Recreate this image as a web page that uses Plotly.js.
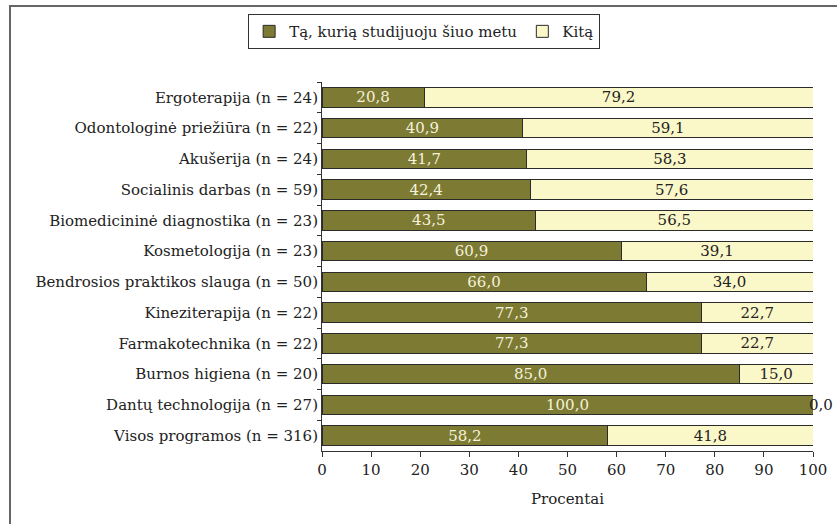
<!DOCTYPE html>
<html>
<head>
<meta charset="utf-8">
<script src="https://cdn.plot.ly/plotly-3.0.1.min.js"></script>
<style>
html,body{margin:0;padding:0;background:#fff;overflow:hidden;}
#frame{position:absolute;left:9px;top:5px;width:900px;height:600px;border-left:2px solid #666;border-top:2px solid #666;box-sizing:border-box;pointer-events:none;z-index:5;}
#chart{position:absolute;left:0;top:0;width:837px;height:524px;}
</style>
</head>
<body>
<div id="chart"></div>
<div id="frame"></div>
<script>
const categories = [
  "Ergoterapija (n = 24)",
  "Odontologinė priežiūra (n = 22)",
  "Akušerija (n = 24)",
  "Socialinis darbas (n = 59)",
  "Biomedicininė diagnostika (n = 23)",
  "Kosmetologija (n = 23)",
  "Bendrosios praktikos slauga (n = 50)",
  "Kineziterapija (n = 22)",
  "Farmakotechnika (n = 22)",
  "Burnos higiena (n = 20)",
  "Dantų technologija (n = 27)",
  "Visos programos (n = 316)"
];
const currentValues = [20.8, 40.9, 41.7, 42.4, 43.5, 60.9, 66.0, 77.3, 77.3, 85.0, 100.0, 58.2];
const otherValues   = [79.2, 59.1, 58.3, 57.6, 56.5, 39.1, 34.0, 22.7, 22.7, 15.0, 0.0, 41.8];
const seriesNames = ["Tą, kurią studijuoju šiuo metu", "Kitą"];
const xTicks = [0, 10, 20, 30, 40, 50, 60, 70, 80, 90, 100];

const FONT = "DejaVu Serif";
const FS = 15;

const fmt = v => v.toFixed(1).replace(".", ",");

const traces = [
  {
    type: "bar", orientation: "h", name: seriesNames[0],
    y: categories, x: currentValues,
    marker: {color: "#7d7a33", line: {color: "#2b2b2b", width: 1}},
    texttemplate: "%{x:.1f}", textposition: "inside", insidetextanchor: "middle",
    constraintext: "none",
    insidetextfont: {family: FONT, size: FS, color: "#f4f2dc"},
    hoverinfo: "x+y"
  },
  {
    type: "bar", orientation: "h", name: seriesNames[1],
    y: categories, x: otherValues,
    marker: {color: "#faf7c8", line: {color: "#2b2b2b", width: 1}},
    texttemplate: "%{x:.1f}",
    textposition: "inside",
    insidetextanchor: "middle",
    constraintext: "none",
    insidetextfont: {family: FONT, size: FS, color: "#222"},
    hoverinfo: "x+y"
  }
];

// labels for zero-width segments (drawn at the end of the stack, from the data)
const zeroLabels = [];
otherValues.forEach((v, i) => {
  if (v === 0) {
    zeroLabels.push({
      x: currentValues[i] + v, y: categories[i], xref: "x", yref: "y",
      text: fmt(v), showarrow: false, xanchor: "left", xshift: -6,
      font: {family: FONT, size: FS, color: "#222"}
    });
  }
});

const layout = {
  width: 837, height: 524,
  margin: {l: 322, r: 24, t: 82, b: 73, pad: 0},
  paper_bgcolor: "#fff", plot_bgcolor: "#fff",
  font: {family: FONT, size: FS, color: "#222"},
  separators: ", ",
  barmode: "stack",
  bargap: 0.36,
  showlegend: true,
  legend: {
    orientation: "h", x: 0.208, xanchor: "center", y: 1.184, yanchor: "top",
    bordercolor: "#333", borderwidth: 1, bgcolor: "#fff",
    font: {family: FONT, size: FS, color: "#222"},
    traceorder: "normal"
  },
  annotations: zeroLabels,
  xaxis: {
    range: [0, 100], tickvals: xTicks, ticks: "outside", ticklen: 5, tickcolor: "#333",
    showline: true, linecolor: "#333", linewidth: 1, showgrid: false, zeroline: false,
    tickfont: {family: FONT, size: FS, color: "#222"},
    title: {text: "Procentai", font: {family: FONT, size: FS, color: "#222"}, standoff: 15},
    fixedrange: true
  },
  yaxis: {
    type: "category", autorange: "reversed",
    ticks: "outside", tickson: "boundaries", ticklen: 4, tickcolor: "#333",
    showline: true, linecolor: "#333", linewidth: 1, showgrid: false, zeroline: false,
    tickfont: {family: FONT, size: FS, color: "#222"},
    fixedrange: true
  }
};

Plotly.newPlot("chart", traces, layout, {displayModeBar: false, staticPlot: true});
</script>
</body>
</html>
